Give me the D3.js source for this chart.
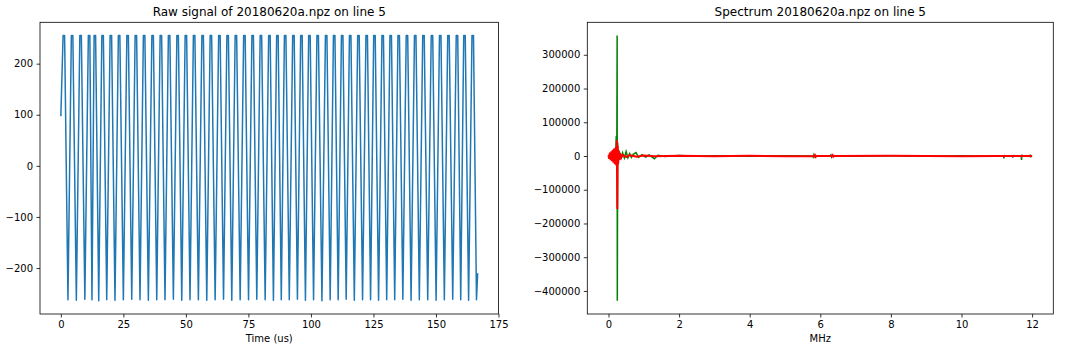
<!DOCTYPE html>
<meta charset="utf-8">
<script src="https://d3js.org/d3.v7.min.js"></script>
<style>
  body { margin: 0; background: #fff; }
  text { font-family: "DejaVu Sans", sans-serif; fill: #000; }
</style>
<body>
<div id="chart"></div>
</body>
<script>
// ---- raw signal (time in us, ADC counts) ----
const rawStart = [0, 97];
const rawEnd = [166.67, -210];
const peakLevel = 255;
// half width of the clipped top of each cycle, us
const clipHalf = 0.3;
const peakTimes = [1.2, 4.5, 7.9, 11.3, 13.6, 16.7, 20.0, 23.3, 26.7, 30.0, 33.3, 36.7, 40.0, 43.3, 46.7,
  50.0, 53.3, 56.7, 60.0, 63.4, 66.7, 70.0, 73.4, 76.7, 80.0, 83.4, 86.6, 89.7, 93.0, 96.2, 99.4, 102.7,
  106.1, 109.3, 112.5, 115.7, 119.0, 122.3, 125.4, 128.7, 131.9, 135.1, 138.4, 141.7, 145.0, 148.4, 151.7,
  155.0, 158.4, 161.4, 164.7];
const troughTimes = [2.85, 6.2, 9.6, 12.45, 15.15, 18.35, 21.65, 25.0, 28.35, 31.65, 35.0, 38.35, 41.65, 45.0,
  48.35, 51.65, 55.0, 58.35, 61.7, 65.05, 68.35, 71.7, 75.05, 78.35, 81.7, 85.0, 88.15, 91.35, 94.6, 97.8,
  101.05, 104.4, 107.7, 110.9, 114.1, 117.35, 120.65, 123.85, 127.05, 130.3, 133.5, 136.75, 140.05, 143.35,
  146.7, 150.05, 153.35, 156.7, 159.9, 163.05, 166.2];
const troughValues = [-262, -263, -261, -262, -264, -262, -263, -262, -261, -262, -263, -262, -262, -261, -263,
  -262, -262, -263, -262, -261, -263, -262, -262, -261, -262, -263, -262, -262, -261, -263, -262, -264, -262,
  -262, -261, -263, -262, -262, -263, -262, -262, -261, -263, -262, -262, -263, -262, -261, -262, -263, -262];
const xTicksRaw = [0, 25, 50, 75, 100, 125, 150, 175];
const yTicksRaw = [-200, -100, 0, 100, 200];

// ---- spectrum (MHz, amplitude) ----
const greenF = [0, 0.02, 0.04, 0.06, 0.08, 0.10, 0.12, 0.14, 0.16, 0.18, 0.20, 0.22, 0.235, 0.245, 0.25, 0.26,
  0.275, 0.29, 0.31, 0.33, 0.36, 0.40, 0.45, 0.50, 0.55, 0.60, 0.65, 0.70, 0.78, 0.85, 0.95, 1.05, 1.15, 1.30,
  1.40, 1.6, 2.0, 2.5, 3.0, 4.0, 5.0, 5.78, 5.8, 5.82, 5.84, 5.86, 6.28, 6.3, 6.32, 6.34, 6.36, 7.0, 8.0, 9.0,
  10.0, 10.8, 11.19, 11.2, 11.21, 11.22, 11.44, 11.45, 11.46, 11.47, 11.69, 11.7, 11.71, 11.72, 11.94, 11.95,
  11.96, 11.97, 12.0];
const greenV = [-3000, 4000, -6000, 8000, -9000, 12000, -10000, 15000, -14000, 20000, -18000, 59000, -30000,
  357000, -429000, 40000, -25000, 18000, -12000, 10000, -8000, 9000, -6000, 13000, -5000, 7000, -4000, 5000,
  10000, -4000, 4000, -3000, 3000, -8000, 2000, -1500, 1500, -1000, 1000, -800, 800, 0, -3000, 4000, -2000, 0,
  0, 3000, -3000, 1000, 0, -500, 500, -500, 500, -500, 0, -7000, 3000, 0, 0, -5000, 3000, 0, 0, -12000, 4000, 0,
  0, 4000, -4000, 0, 0];
const redF = [0, 0.02, 0.04, 0.06, 0.08, 0.10, 0.12, 0.14, 0.16, 0.18, 0.20, 0.22, 0.235, 0.25, 0.26, 0.275,
  0.29, 0.31, 0.33, 0.36, 0.40, 0.5, 0.6, 0.8, 1.0, 1.3, 2.0, 3.0, 4.0, 5.0, 5.83, 5.85, 5.87, 5.89, 6.33, 6.35,
  6.37, 6.39, 8.0, 10.0, 11.0, 12.0];
const redV = [2000, -8000, 10000, -12000, 14000, -15000, 18000, -20000, 22000, -24000, 25000, -28000, 47000,
  -157000, 30000, -22000, 15000, -10000, 7000, -5000, 4000, -3000, 2500, -2000, 1500, -1000, 800, -700, 500,
  -500, 0, 2500, -2500, 0, 0, 2500, -2000, 0, 400, -400, 300, 0];
const xTicksSpec = [0, 2, 4, 6, 8, 10, 12];
const yTicksSpec = [-400000, -300000, -200000, -100000, 0, 100000, 200000, 300000];

// build the raw polyline from the key points
const rawPoints = [rawStart];
peakTimes.forEach((t, i) => {
  const prev = i === 0 ? rawStart[0] : troughTimes[i - 1];
  const half = Math.min(clipHalf, (t - prev) / 3, (troughTimes[i] - t) / 3);
  rawPoints.push([t - half, peakLevel]);
  rawPoints.push([t + half, peakLevel]);
  rawPoints.push([troughTimes[i], troughValues[i]]);
});
rawPoints.push(rawEnd);

const greenPts = greenF.map((f, i) => [f, greenV[i]]);
const redPts = redF.map((f, i) => [f, redV[i]]);

const W = 1072, H = 352;
const svg = d3.select("#chart").append("svg")
  .attr("width", W).attr("height", H);

const fmt = d => (d < 0 ? "\u2212" + Math.abs(d) : "" + d);

// matplotlib style 5% margins
function padded(ext) {
  const r = ext[1] - ext[0];
  return [ext[0] - 0.05 * r, ext[1] + 0.05 * r];
}

function panel(box, xDom, yDom, xTicks, yTicks, title, xlabel) {
  const x = d3.scaleLinear().domain(xDom).range([box.left, box.right]);
  const y = d3.scaleLinear().domain(yDom).range([box.bottom, box.top]);

  const g = svg.append("g");
  g.append("g")
    .attr("transform", `translate(0,${box.bottom})`)
    .call(d3.axisBottom(x).tickValues(xTicks).tickFormat(fmt).tickSize(3.5).tickPadding(3.5).tickSizeOuter(0))
    .call(a => a.select(".domain").remove())
    .call(a => a.selectAll("line").attr("stroke", "#000").attr("stroke-width", 0.8))
    .call(a => a.selectAll("text").attr("font-size", 10).attr("font-family", "DejaVu Sans").attr("fill", "#000"));

  g.append("g")
    .attr("transform", `translate(${box.left},0)`)
    .call(d3.axisLeft(y).tickValues(yTicks).tickFormat(fmt).tickSize(3.5).tickPadding(3.5).tickSizeOuter(0))
    .call(a => a.select(".domain").remove())
    .call(a => a.selectAll("line").attr("stroke", "#000").attr("stroke-width", 0.8))
    .call(a => a.selectAll("text").attr("font-size", 10).attr("font-family", "DejaVu Sans").attr("fill", "#000"));

  g.append("text")
    .attr("x", (box.left + box.right) / 2)
    .attr("y", box.top - 6)
    .attr("text-anchor", "middle")
    .attr("font-size", 12)
    .text(title);

  g.append("text")
    .attr("x", (box.left + box.right) / 2)
    .attr("y", 342)
    .attr("text-anchor", "middle")
    .attr("font-size", 10)
    .text(xlabel);

  const clipId = "clip" + Math.round(box.left);
  svg.append("clipPath").attr("id", clipId)
    .append("rect")
    .attr("x", box.left).attr("y", box.top)
    .attr("width", box.right - box.left).attr("height", box.bottom - box.top);

  const plot = svg.append("g").attr("clip-path", `url(#${clipId})`);

  return { x, y, plot, g, box };
}

function frame(p) {
  p.g.append("rect")
    .attr("x", p.box.left).attr("y", p.box.top)
    .attr("width", p.box.right - p.box.left).attr("height", p.box.bottom - p.box.top)
    .attr("fill", "none").attr("stroke", "#000").attr("stroke-width", 0.8);
}

// left: raw signal
const rawY = rawPoints.map(d => d[1]);
const left = panel({ left: 40, right: 498.5, top: 22.3, bottom: 314 },
  padded([0, rawEnd[0]]), padded(d3.extent(rawY)),
  xTicksRaw, yTicksRaw, "Raw signal of 20180620a.npz on line 5", "Time (us)");

left.plot.append("path")
  .datum(rawPoints)
  .attr("fill", "none")
  .attr("stroke", "#1f77b4")
  .attr("stroke-width", 1.5)
  .attr("stroke-linejoin", "round")
  .attr("d", d3.line().x(d => left.x(d[0])).y(d => left.y(d[1])));
frame(left);

// right: spectrum
const right = panel({ left: 587.3, right: 1053.3, top: 22.3, bottom: 314 },
  padded([0, 12]), padded(d3.extent(greenV.concat(redV))),
  xTicksSpec, yTicksSpec, "Spectrum 20180620a.npz on line 5", "MHz");

const specLine = d3.line().x(d => right.x(d[0])).y(d => right.y(d[1]));
right.plot.append("path")
  .datum(greenPts)
  .attr("fill", "none")
  .attr("stroke", "#008000")
  .attr("stroke-width", 1.5)
  .attr("d", specLine);
right.plot.append("path")
  .datum(redPts)
  .attr("fill", "none")
  .attr("stroke", "#ff0000")
  .attr("stroke-width", 2)
  .attr("d", specLine);
frame(right);
</script>
